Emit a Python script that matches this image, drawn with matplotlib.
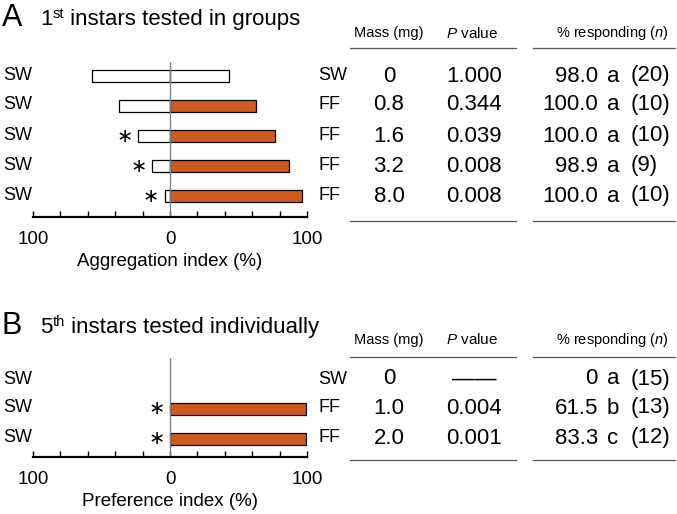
import matplotlib.pyplot as plt
import numpy as np

plt.rcParams['font.family'] = ['Liberation Sans', 'DejaVu Sans']
plt.rcParams['mathtext.fontset'] = 'custom'
plt.rcParams['mathtext.rm'] = 'Liberation Sans'
plt.rcParams['mathtext.it'] = 'Liberation Sans:italic'

# panel A: 1st instars in groups
a_left = ['SW', 'SW', 'SW', 'SW', 'SW']
a_right = ['SW', 'FF', 'FF', 'FF', 'FF']
a_sw = [57, 37, 23, 13, 4]
a_ff = [43, 63, 77, 87, 96]
a_sig = [False, False, True, True, True]
a_mass = ['0', '0.8', '1.6', '3.2', '8.0']
a_p = ['1.000', '0.344', '0.039', '0.008', '0.008']
a_pct = ['98.0', '100.0', '100.0', '98.9', '100.0']
a_grp = ['a', 'a', 'a', 'a', 'a']
a_n = ['(20)', '(10)', '(10)', '(9)', '(10)']

# panel B: 5th instars individually
b_left = ['SW', 'SW', 'SW']
b_right = ['SW', 'FF', 'FF']
b_sw = [0, 0, 0]
b_ff = [0, 99, 99]
b_sig = [False, True, True]
b_mass = ['0', '1.0', '2.0']
b_p = ['\u2014\u2014', '0.004', '0.001']
b_pct = ['0', '61.5', '83.3']
b_grp = ['a', 'b', 'c']
b_n = ['(15)', '(13)', '(12)']

W, H = 677, 514
orange = '#CF5A1E'
fig = plt.figure(figsize=(W / 100, H / 100), dpi=100)
renderer = fig.canvas.get_renderer()


def fx(x):
    return x / W


def fy(y):
    return 1 - y / H


def panel(top, bottom, ylim, left, right, sw, ff, sig, xlabel):
    ax = fig.add_axes([fx(33), fy(bottom), fx(307) - fx(33), fy(top) - fy(bottom)])
    cols = ['white' if r == 'SW' else orange for r in right]
    for i in range(len(left)):
        if sw[i] > 0:
            ax.barh(i, -sw[i], height=0.4, color='white', edgecolor='black', lw=0.9)
        if ff[i] > 0:
            ax.barh(i, ff[i], height=0.4, color=cols[i], edgecolor='black', lw=0.9)
        if sig[i]:
            ax.text(-sw[i] - 10, i, '\u2217', ha='center', va='center', fontsize=14,
                    family='DejaVu Sans')
    ax.axvline(0, color='#808080', lw=1)
    ax.set_xlim(-100, 100)
    ax.set_ylim(*ylim)
    for s in ['left', 'right', 'top']:
        ax.spines[s].set_visible(False)
    ax.spines['bottom'].set_linewidth(1.6)
    ax.set_yticks([])
    ax.set_xticks([-100, 0, 100])
    ax.set_xticklabels(['100', '0', '100'], fontsize=13.5)
    ax.set_xticks(np.arange(-100, 101, 20), minor=True)
    ax.tick_params(which='both', direction='in', length=4, width=1, pad=10)
    ax.set_xlabel(xlabel, fontsize=13.5, labelpad=4)
    ax.patch.set_visible(False)
    return ax


def title(y, letter, num, sup, rest):
    fig.text(fx(2), fy(y + 1), letter, fontsize=22, va='baseline')
    t = fig.text(fx(40), fy(y), num, fontsize=16, va='baseline')
    x = t.get_window_extent(renderer).x1
    t = fig.text(x / W + fx(0.5), fy(y - 7), sup, fontsize=10.5, va='baseline')
    x = t.get_window_extent(renderer).x1
    fig.text(x / W, fy(y), ' ' + rest, fontsize=16, va='baseline')


def labels(ycen, left, right):
    for y, l, r in zip(ycen, left, right):
        fig.text(fx(3), fy(y), l, ha='left', va='center', fontsize=13)
        fig.text(fx(318), fy(y), r, ha='left', va='center', fontsize=13)


def table(yhead, yline1, yline2, ycen, mass, p, pct, grp, n):
    fig.text(fx(389), fy(yhead), 'Mass (mg)', ha='center', va='center', fontsize=10.5)
    fig.text(fx(472), fy(yhead), '$P$ value', ha='center', va='center', fontsize=11)
    fig.text(fx(612), fy(yhead), '% responding ($n$)', ha='center', va='center', fontsize=10.5)
    for yl in [yline1, yline2]:
        fig.add_artist(plt.Line2D([fx(350), fx(516)], [fy(yl), fy(yl)], color='#555555', lw=0.9))
        fig.add_artist(plt.Line2D([fx(533), fx(675)], [fy(yl), fy(yl)], color='#555555', lw=0.9))
    for y, m, pv, pc, g, nn in zip(ycen, mass, p, pct, grp, n):
        fig.text(fx(389), fy(y), m, ha='center', va='center', fontsize=16)
        fig.text(fx(474), fy(y), pv, ha='center', va='center', fontsize=16)
        fig.text(fx(598), fy(y), pc, ha='right', va='center', fontsize=16)
        fig.text(fx(613), fy(y), g, ha='center', va='center', fontsize=16)
        fig.text(fx(631), fy(y), nn, ha='left', va='center', fontsize=16)


# panel A
title(25, 'A', '1', 'st', 'instars tested in groups')
panel(62, 217, (4.7, -0.47), a_left, a_right, a_sw, a_ff, a_sig, 'Aggregation index (%)')
ya = [76, 105, 136, 166, 196]
labels(ya, a_left, a_right)
table(33, 48, 221, ya, a_mass, a_p, a_pct, a_grp, a_n)

# panel B
title(333, 'B', '5', 'th', 'instars tested individually')
panel(358, 457, (2.6, -0.7), b_left, b_right, b_sw, b_ff, b_sig, 'Preference index (%)')
yb = [379, 408, 438]
labels(yb, b_left, b_right)
table(340, 357, 460, yb, b_mass, b_p, b_pct, b_grp, b_n)

fig.savefig('out.png', dpi=100)
